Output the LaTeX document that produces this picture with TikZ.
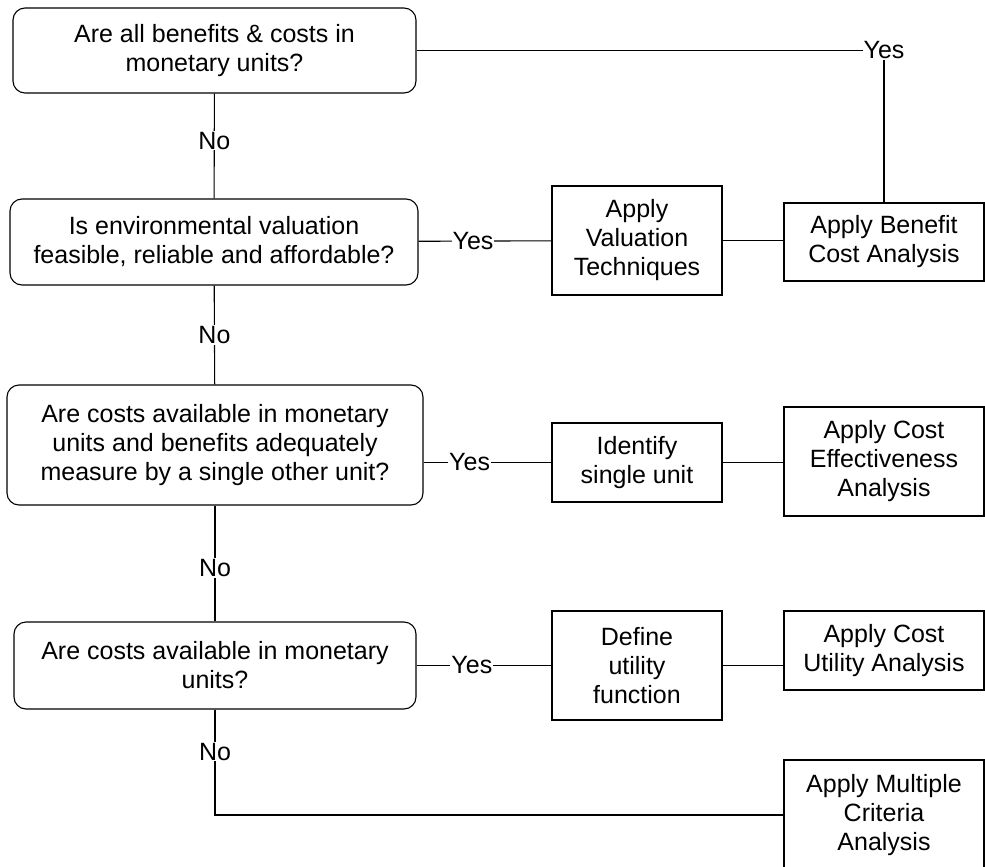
\documentclass[tikz,border=0pt]{standalone}
\usepackage{fontspec}
\setmainfont{Liberation Sans}
\usetikzlibrary{positioning}
\tikzset{
  query/.style={draw, rounded corners=12pt, align=center, inner sep=0pt},
  action/.style={draw, align=center, inner sep=0pt},
  lbl/.style={fill=white, inner sep=1pt},
  link/.style={black, line width=1.1pt}
}
\begin{document}
\begin{tikzpicture}[x=1pt, y=-1pt, font=\fontsize{25}{29}\selectfont, line width=1.1pt]
                \useasboundingbox (0,0) rectangle (985,867);
                \node[query, minimum width=403pt, minimum height=85pt] (q1) at (214.5,50.5) {Are all benefits \& costs in\\monetary units?};
                \node[query, minimum width=408pt, minimum height=86pt] (q2) at (214,242) {Is environmental valuation\\feasible, reliable and affordable?};
                \node[query, minimum width=416pt, minimum height=120pt] (q3) at (215,445) {Are costs available in monetary\\units and benefits adequately\\measure by a single other unit?};
                \node[query, minimum width=402pt, minimum height=87pt] (q4) at (215,665.5) {Are costs available in monetary\\units?};
                \node[action, minimum width=170pt, minimum height=109pt] (valuation) at (637,240.5) {Apply\\Valuation\\Techniques};
                \node[action, minimum width=170pt, minimum height=79pt] (single) at (637,462.5) {Identify\\single unit};
                \node[action, minimum width=170pt, minimum height=109pt] (utilfn) at (637,665.5) {Define\\utility\\function};
                \node[action, minimum width=200pt, minimum height=78pt] (bca) at (884,242) {Apply Benefit\\Cost Analysis};
                \node[action, minimum width=200pt, minimum height=109pt] (cea) at (884,461.5) {Apply Cost\\Effectiveness\\Analysis};
                \node[action, minimum width=200pt, minimum height=79pt] (cua) at (884,650.5) {Apply Cost\\Utility Analysis};
                \node[action, minimum width=200pt, minimum height=110pt] (mca) at (884,815) {Apply Multiple\\Criteria\\Analysis};
                \draw[link] (q1) -- (q1 -| bca) node[lbl] {Yes} -- (bca);
                \draw[link] (q1) -- node[lbl, pos=0.45] {No} (q2);
                \draw[link] (q2) -- node[lbl, pos=0.41] {Yes} (valuation);
                \draw[link] (valuation) -- (valuation -| bca.west);
                \draw[link] (q2) -- node[lbl] {No} (q3);
                \draw[link] (q3.east |- single) -- node[lbl, pos=0.36] {Yes} (single);
                \draw[link] (single) -- (single -| cea.west);
                \draw[link] (q3) -- node[lbl, pos=0.54] {No} (q4);
                \draw[link] (q4) -- node[lbl, pos=0.41] {Yes} (utilfn);
                \draw[link] (utilfn) -- (utilfn -| cua.west);
                \draw[link] (q4) -- node[lbl, pos=0.4] {No} (q4 |- mca) -- (mca);
            \end{tikzpicture}
\end{document}
